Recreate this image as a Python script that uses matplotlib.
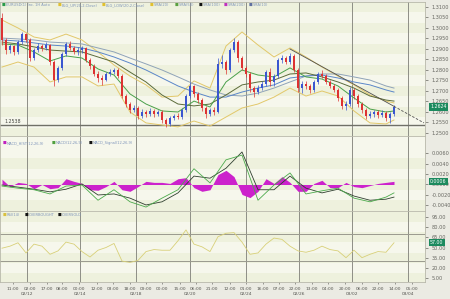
import numpy as np
import matplotlib
matplotlib.use("Agg")
import matplotlib.pyplot as plt
from matplotlib.transforms import blended_transform_factory

# hourly candles (one per bar)
opens = [1.3048, 1.2943, 1.2895, 1.2914, 1.2886, 1.2933, 1.2971, 1.2943, 1.2857, 1.2895,
         1.2914, 1.2905, 1.2919, 1.2838, 1.2752, 1.2810, 1.2876, 1.2924, 1.2905, 1.2886,
         1.2895, 1.2905, 1.2848, 1.2819, 1.2781, 1.2762, 1.2752, 1.2781, 1.2790, 1.2800,
         1.2771, 1.2676, 1.2638, 1.2610, 1.2619, 1.2581, 1.2600, 1.2590, 1.2605, 1.2590,
         1.2600, 1.2562, 1.2543, 1.2571, 1.2581, 1.2576, 1.2610, 1.2676, 1.2724, 1.2686,
         1.2657, 1.2619, 1.2590, 1.2610, 1.2600, 1.2829, 1.2838, 1.2800, 1.2895, 1.2933,
         1.2857, 1.2810, 1.2781, 1.2714, 1.2695, 1.2714, 1.2733, 1.2790, 1.2743, 1.2771,
         1.2848, 1.2857, 1.2838, 1.2867, 1.2800, 1.2714, 1.2733, 1.2724, 1.2705, 1.2743,
         1.2781, 1.2771, 1.2743, 1.2724, 1.2705, 1.2667, 1.2629, 1.2638, 1.2705, 1.2676,
         1.2638, 1.2610, 1.2581, 1.2590, 1.2600, 1.2586, 1.2595, 1.2571, 1.2590]
closes = [1.2943, 1.2895, 1.2914, 1.2886, 1.2933, 1.2971, 1.2943, 1.2857, 1.2895, 1.2914,
          1.2905, 1.2919, 1.2838, 1.2752, 1.2810, 1.2876, 1.2924, 1.2905, 1.2886, 1.2895,
          1.2905, 1.2848, 1.2819, 1.2781, 1.2762, 1.2752, 1.2781, 1.2790, 1.2800, 1.2771,
          1.2676, 1.2638, 1.2610, 1.2619, 1.2581, 1.2600, 1.2590, 1.2605, 1.2590, 1.2600,
          1.2562, 1.2543, 1.2571, 1.2581, 1.2576, 1.2610, 1.2676, 1.2724, 1.2686, 1.2657,
          1.2619, 1.2590, 1.2610, 1.2600, 1.2829, 1.2838, 1.2800, 1.2895, 1.2933, 1.2857,
          1.2810, 1.2781, 1.2714, 1.2695, 1.2714, 1.2733, 1.2790, 1.2743, 1.2771, 1.2848,
          1.2857, 1.2838, 1.2867, 1.2800, 1.2714, 1.2733, 1.2724, 1.2705, 1.2743, 1.2781,
          1.2771, 1.2743, 1.2724, 1.2705, 1.2667, 1.2629, 1.2638, 1.2705, 1.2676, 1.2638,
          1.2610, 1.2581, 1.2590, 1.2600, 1.2586, 1.2595, 1.2571, 1.2590, 1.2624]
highs = [1.3071, 1.2952, 1.2924, 1.2919, 1.2943, 1.2981, 1.2976, 1.2952, 1.2905, 1.2929,
         1.2924, 1.2933, 1.2924, 1.2848, 1.2819, 1.2886, 1.2933, 1.2938, 1.2914, 1.2910,
         1.2914, 1.2910, 1.2857, 1.2829, 1.2795, 1.2776, 1.2790, 1.2805, 1.2810, 1.2810,
         1.2781, 1.2686, 1.2648, 1.2633, 1.2629, 1.2614, 1.2610, 1.2619, 1.2614, 1.2610,
         1.2610, 1.2571, 1.2581, 1.2590, 1.2595, 1.2619, 1.2686, 1.2743, 1.2729, 1.2695,
         1.2667, 1.2629, 1.2619, 1.2624, 1.2857, 1.2871, 1.2848, 1.2905, 1.2952, 1.2943,
         1.2867, 1.2819, 1.2790, 1.2724, 1.2729, 1.2748, 1.2800, 1.2810, 1.2781, 1.2857,
         1.2871, 1.2867, 1.2881, 1.2876, 1.2810, 1.2748, 1.2748, 1.2733, 1.2752, 1.2790,
         1.2800, 1.2781, 1.2752, 1.2733, 1.2714, 1.2676, 1.2652, 1.2719, 1.2714, 1.2686,
         1.2648, 1.2619, 1.2605, 1.2610, 1.2610, 1.2610, 1.2605, 1.2600, 1.2633]
lows = [1.2919, 1.2876, 1.2881, 1.2871, 1.2876, 1.2924, 1.2933, 1.2843, 1.2848, 1.2886,
        1.2890, 1.2895, 1.2824, 1.2724, 1.2743, 1.2800, 1.2867, 1.2895, 1.2876, 1.2871,
        1.2881, 1.2838, 1.2805, 1.2771, 1.2743, 1.2729, 1.2748, 1.2771, 1.2781, 1.2762,
        1.2667, 1.2624, 1.2595, 1.2600, 1.2567, 1.2571, 1.2576, 1.2581, 1.2576, 1.2581,
        1.2548, 1.2529, 1.2533, 1.2562, 1.2567, 1.2567, 1.2600, 1.2667, 1.2671, 1.2643,
        1.2605, 1.2571, 1.2581, 1.2586, 1.2595, 1.2810, 1.2781, 1.2790, 1.2886, 1.2838,
        1.2800, 1.2767, 1.2695, 1.2671, 1.2686, 1.2705, 1.2724, 1.2724, 1.2724, 1.2762,
        1.2833, 1.2829, 1.2829, 1.2790, 1.2695, 1.2690, 1.2710, 1.2690, 1.2695, 1.2733,
        1.2762, 1.2733, 1.2714, 1.2695, 1.2652, 1.2614, 1.2610, 1.2629, 1.2662, 1.2624,
        1.2595, 1.2567, 1.2571, 1.2576, 1.2571, 1.2576, 1.2557, 1.2548, 1.2581]

# overlays, read every 4 bars
ind_bars = [0, 4, 8, 12, 16, 20, 24, 28, 32, 36, 40, 44, 48, 52, 56, 60, 64, 68, 72, 76, 80, 84, 88, 92, 96, 98]
bb_upper = [1.3038, 1.3000, 1.2957, 1.2943, 1.2971, 1.2943, 1.2886, 1.2824, 1.2771, 1.2729, 1.2671, 1.2676, 1.2748,
            1.2714, 1.2914, 1.2981, 1.2919, 1.2862, 1.2905, 1.2862, 1.2814, 1.2771, 1.2729, 1.2681, 1.2652, 1.2643]
bb_lower = [1.2814, 1.2838, 1.2814, 1.2743, 1.2767, 1.2767, 1.2724, 1.2733, 1.2600, 1.2548, 1.2538, 1.2529, 1.2557,
            1.2533, 1.2576, 1.2619, 1.2638, 1.2671, 1.2714, 1.2676, 1.2700, 1.2676, 1.2605, 1.2548, 1.2543, 1.2562]
sma20 = [1.2924, 1.2919, 1.2886, 1.2843, 1.2867, 1.2857, 1.2805, 1.2776, 1.2686, 1.2638, 1.2605, 1.2600, 1.2652,
         1.2624, 1.2743, 1.2800, 1.2776, 1.2767, 1.2810, 1.2767, 1.2757, 1.2724, 1.2667, 1.2614, 1.2600, 1.2605]
sma50 = [1.2933, 1.2924, 1.2910, 1.2895, 1.2890, 1.2886, 1.2862, 1.2838, 1.2790, 1.2743, 1.2681, 1.2638, 1.2629,
         1.2638, 1.2681, 1.2729, 1.2743, 1.2752, 1.2781, 1.2786, 1.2767, 1.2743, 1.2714, 1.2676, 1.2657, 1.2652]
sma100 = [1.2943, 1.2938, 1.2929, 1.2919, 1.2914, 1.2905, 1.2886, 1.2862, 1.2833, 1.2800, 1.2762, 1.2724, 1.2695,
          1.2671, 1.2671, 1.2695, 1.2714, 1.2729, 1.2762, 1.2771, 1.2776, 1.2762, 1.2743, 1.2729, 1.2705, 1.2695]
sma200 = [1.2952, 1.2948, 1.2943, 1.2933, 1.2929, 1.2924, 1.2905, 1.2886, 1.2857, 1.2829, 1.2800, 1.2767, 1.2733,
          1.2705, 1.2681, 1.2676, 1.2690, 1.2714, 1.2743, 1.2771, 1.2781, 1.2781, 1.2767, 1.2752, 1.2724, 1.2714]
support_level = 1.2538
trend_x = [72, 98, 105.5]
trend_y = [1.2900, 1.2627, 1.2548]

macd_line = [-0.0003, -0.0007, -0.0010, -0.0018, -0.0003, -0.0001, -0.0030, -0.0010, -0.0033, -0.0043, -0.0026,
             -0.0010, 0.0030, 0.0003, 0.0047, 0.0056, -0.0030, -0.0001, 0.0022, -0.0018, -0.0012, -0.0007,
             -0.0026, -0.0033, -0.0024, -0.0016]
macd_signal = [-0.0001, -0.0005, -0.0009, -0.0014, -0.0009, 0.0001, -0.0020, -0.0018, -0.0026, -0.0039, -0.0033,
               -0.0016, 0.0016, 0.0012, 0.0031, 0.0062, -0.0010, -0.0010, 0.0016, -0.0007, -0.0016, -0.0009,
               -0.0022, -0.0030, -0.0028, -0.0024]

# oscillators, read every 2 bars
osc_bars = list(range(0, 100, 2))
macd_hist = [0.0010, -0.0004, 0.0004, 0.0002, -0.0008, 0.0000, -0.0008, -0.0006, 0.0011, 0.0006,
             0.0002, -0.0010, -0.0011, -0.0004, 0.0006, -0.0010, -0.0013, -0.0004, 0.0006, 0.0004,
             0.0004, 0.0002, 0.0011, 0.0013, -0.0006, -0.0013, -0.0010, 0.0019, 0.0027, 0.0015,
             -0.0019, -0.0025, -0.0013, 0.0011, 0.0002, 0.0015, 0.0004, -0.0013, -0.0013, 0.0002,
             0.0008, -0.0006, -0.0006, 0.0004, -0.0004, -0.0006, -0.0002, 0.0002, 0.0004, 0.0006]
rsi = [49, 52, 57, 42, 55, 52, 40, 45, 58, 55, 44, 36, 46, 50, 56, 30, 28, 31, 44, 47,
       46, 46, 60, 76, 55, 51, 44, 66, 71, 72, 58, 40, 42, 55, 64, 62, 52, 45, 43, 46,
       52, 47, 45, 35, 46, 35, 40, 44, 43, 57]
rsi_overbought = 70
rsi_oversold = 30

hour_pos = [2.75, 7, 11.25, 15, 19.25, 23.75, 27.75, 32, 36, 40, 44.5, 48.5, 52.5, 57, 61,
            65.25, 69.25, 73.25, 77.5, 81.5, 85.75, 90, 94, 98.25, 102.5]
hour_labels = ["11:00", "02:00", "17:00", "08:00", "00:00", "12:00", "03:00", "18:00", "09:00",
               "00:00", "15:00", "06:00", "21:00", "12:00", "01:00", "16:00", "07:00", "22:00",
               "13:00", "04:00", "20:00", "06:00", "22:00", "14:00", "05:00"]
day_pos = [6.25, 19.5, 33.5, 47, 61, 74.25, 87.5, 101.5]
day_labels = ["02/12", "02/14", "02/18", "02/20", "02/24", "02/26", "03/02", "03/04"]

W, H = 450, 299
fig = plt.figure(figsize=(W / 100, H / 100), dpi=100, facecolor="#ebebe3")


def panel(top, bottom):
    return fig.add_axes([0, 1 - bottom / H, 425 / W, (bottom - top) / H])


ax1 = panel(2, 136)
ax2 = panel(136, 211)
ax3 = panel(211, 282)

ax1.set_ylim(1.24857, 1.31238)
ax1.set_yticks(np.arange(1.25, 1.3101, 0.005))
ax1.yaxis.set_major_formatter(plt.FormatStrFormatter("%.4f"))
ax2.set_ylim(-0.00505, 0.00924)
ax2.set_yticks([-0.004, -0.002, 0.0, 0.002, 0.004, 0.006])
ax2.yaxis.set_major_formatter(plt.FormatStrFormatter("%.4f"))
ax3.set_ylim(-0.9, 103.9)
ax3.set_yticks([5, 20, 35, 50, 65, 80, 95])
ax3.yaxis.set_major_formatter(plt.FormatStrFormatter("%.2f"))

for ax in (ax1, ax2, ax3):
    ax.set_facecolor("#f6f7ec")
    ax.set_xlim(-0.5, 105.75)
    ax.yaxis.tick_right()
    ax.tick_params(axis="y", labelsize=3.6, colors="#666660", length=2, width=0.5, pad=3)
    ax.tick_params(axis="x", length=0, labelbottom=False)
    for s in ax.spines.values():
        s.set_color("#b8b8aa")
        s.set_linewidth(0.6)
    ticks = list(ax.get_yticks())
    lo, hi = ax.get_ylim()
    step = ticks[1] - ticks[0]
    for k, t in enumerate(ticks):
        if k % 2 == 0:
            ax.axhspan(t - step / 2, t + step / 2, color="#eef1dd", lw=0, zorder=0)
    ax.set_ylim(lo, hi)
    for d in day_pos:
        ax.axvline(d, color="#8e8e86", lw=0.7, zorder=1)

# price panel
bars = np.arange(len(closes))
o, c, h, l = map(np.array, (opens, closes, highs, lows))
col = np.where(c >= o, "#3a56d0", "#dd3232")
ax1.vlines(bars, l, h, colors=col, lw=0.5, zorder=4)
ax1.bar(bars, np.maximum(np.abs(c - o), 0.00008), bottom=np.minimum(o, c), width=0.6,
        color=col, lw=0, zorder=5)

ax1.plot(ind_bars, bb_upper, color="#e2c86a", lw=0.7, zorder=3)
ax1.plot(ind_bars, bb_lower, color="#e2c86a", lw=0.7, zorder=3)
ax1.plot(ind_bars, sma200, color="#8fa3b8", lw=0.7, zorder=3)
ax1.plot(ind_bars, sma100, color="#5a86c8", lw=0.7, zorder=3)
ax1.plot(ind_bars, sma50, color="#5b6b3a", lw=0.7, zorder=3)
ax1.plot(ind_bars, sma20, color="#4aa04a", lw=0.7, zorder=3)

ax1.axhline(support_level, color="#707068", lw=1.0, zorder=2)
ax1.text(0.5, support_level + 0.0004, f"{support_level:.4f}", fontsize=3.4, color="#444440",
         va="bottom", ha="left", zorder=6)
ax1.plot(trend_x[:2], trend_y[:2], color="#505050", lw=0.6, zorder=6)
ax1.plot(trend_x[1:], trend_y[1:], color="#505050", lw=0.6, ls=(0, (3, 2)), zorder=6)

# MACD panel
ax2.fill_between(osc_bars, 0, macd_hist, color="#cc22cc", lw=0, zorder=3)
ax2.plot(ind_bars, macd_signal, color="#2f3f2f", lw=0.6, zorder=4)
ax2.plot(ind_bars, macd_line, color="#4caa4c", lw=0.6, zorder=4)

# RSI panel
ax3.axhline(rsi_overbought, color="#9a9a8e", lw=0.7, zorder=2)
ax3.axhline(rsi_oversold, color="#9a9a8e", lw=0.7, zorder=2)
ax3.plot(osc_bars, rsi, color="#d8d078", lw=0.6, zorder=3)

ax3.set_xticks(hour_pos)
ax3.set_xticklabels(hour_labels)
ax3.tick_params(axis="x", labelbottom=True, labelsize=3.2, colors="#555550", length=1.5,
                width=0.4, pad=2)
tr = blended_transform_factory(ax3.transData, ax3.transAxes)
for d, lab in zip(day_pos, day_labels):
    ax3.text(d, -0.17, lab, transform=tr, fontsize=3.2, color="#555550", ha="center", va="center")


# current-value boxes on the right axis
def value_box(ax, val, fmt):
    trb = blended_transform_factory(ax.transAxes, ax.transData)
    ax.text(1.012, val, fmt % val, transform=trb, fontsize=3.4, color="white", va="center",
            ha="left", bbox=dict(boxstyle="square,pad=0.25", fc="#1c8a5e", ec="none"), zorder=10,
            clip_on=False)


value_box(ax1, closes[-1], "%.4f")
value_box(ax2, macd_hist[-1], "%.4f")
value_box(ax3, rsi[-1], "%.2f")


# legend rows
def legend_row(y, items):
    for x, color, label in items:
        fig.text(x / W, 1 - y / H, "■", fontsize=2.8, color=color, va="center", ha="left")
        fig.text((x + 4) / W, 1 - y / H, label, fontsize=2.6, color="#7f95bb", va="center", ha="left")


legend_row(5, [(2, "#2a9a4a", "EURUSD(1) Inc. 1H Auto"), (58, "#e0c030", "BLG_UP(20,2,Close)"),
               (102, "#e0c030", "BLG_LOW(20,2,Close)"), (150, "#e0c030", "SMA(20)"),
               (175, "#5aa040", "SMA(50)"), (199, "#111111", "SMA(100)"),
               (224, "#c030c0", "SMA(200)"), (249, "#6070a0", "SMA(10)")])
legend_row(143, [(3, "#c020c0", "MACD_HIST(12,26,9)"), (52, "#50a040", "MACD(12,26,9)"),
                 (89, "#111111", "MACD_Signal(12,26,9)")])
legend_row(215, [(3, "#d8c040", "RSI(14)"), (25, "#111111", "OVERBOUGHT"), (58, "#111111", "OVERSOLD")])

fig.savefig("out.png", dpi=100, facecolor=fig.get_facecolor())
